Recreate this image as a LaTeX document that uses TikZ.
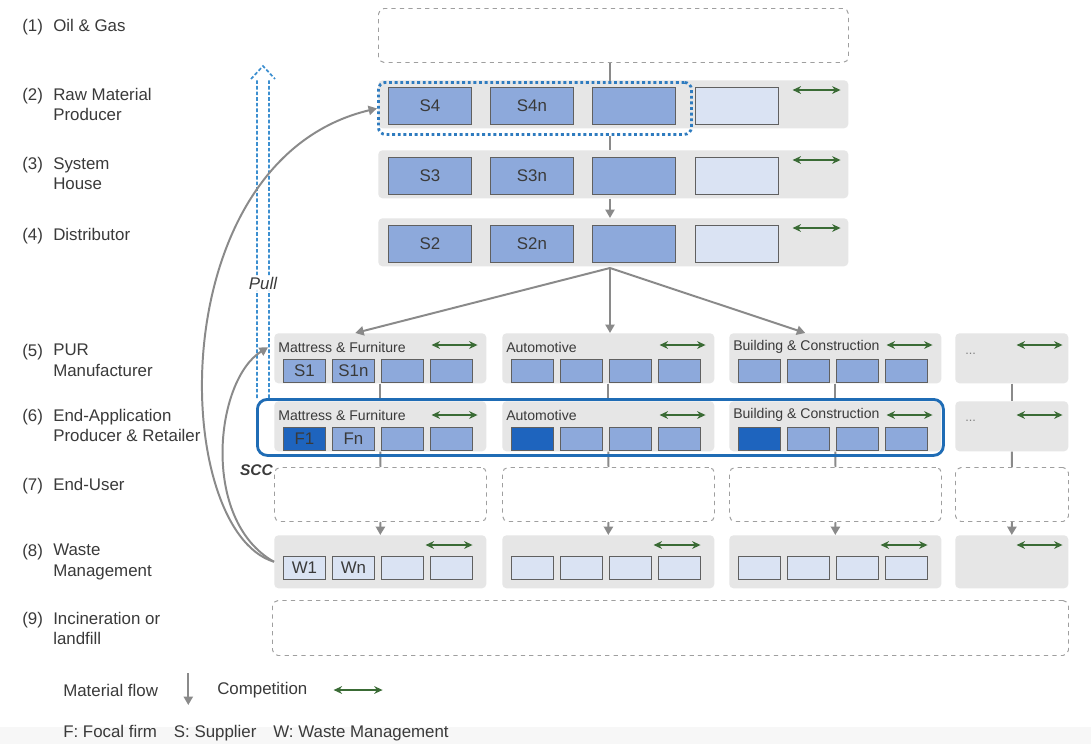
\documentclass[tikz,border=0pt]{standalone}
\usepackage{fontspec}
\setmainfont{Liberation Sans}
\usetikzlibrary{positioning}
\usetikzlibrary{arrows.meta}
\newcommand{\pxu}{0.025cm}
\definecolor{midblue}{HTML}{8DA9DB}
\definecolor{lightblue}{HTML}{DAE3F3}
\definecolor{focalblue}{HTML}{1E64BE}
\definecolor{sccblue}{HTML}{1F6CB5}
\definecolor{dotblue}{HTML}{2E7BBF}
\definecolor{pullblue}{HTML}{3C8FD0}
\definecolor{compgreen}{HTML}{3A6B35}
\definecolor{flowgray}{HTML}{8A8A8A}
\definecolor{panelgray}{HTML}{E6E6E6}
\definecolor{txtgray}{HTML}{3A3A3A}
\tikzset{>={Triangle[width=6.5pt,length=6pt]}}
\tikzset{
  wh/.style 2 args={minimum width=#1*\pxu, minimum height=#2*\pxu},
  dashbox/.style={draw=gray!75, dashed, line width=0.7pt, rounded corners=4pt, inner sep=0, anchor=north west},
  panel/.style={fill=panelgray, rounded corners=3pt, inner sep=0, anchor=north west},
  sbox/.style={draw=gray!75!black, fill=midblue, line width=0.6pt, inner sep=0, anchor=north west},
  lbox/.style={sbox, fill=lightblue},
  boxlabel/.style={inner sep=0, font=\fontsize{12}{14}\selectfont, text=txtgray},
  flow/.style={draw=flowgray, line width=1.4pt},
  compete/.style={draw=compgreen, line width=1.5pt, {Stealth[length=6pt,width=5.5pt]}-{Stealth[length=6pt,width=5.5pt]}},
  rowno/.style={anchor=north west, inner sep=0, font=\fontsize{12}{14.4}\selectfont, text=txtgray},
  rowtxt/.style={rowno, align=left},
  sector/.style={anchor=west, inner sep=0, font=\fontsize{10}{12}\selectfont, text=txtgray},
  dots/.style={anchor=west, inner sep=0, font=\fontsize{9}{10}\selectfont, text=gray},
  legend/.style={anchor=west, inner sep=0, font=\fontsize{12}{14}\selectfont, text=txtgray},
}

\begin{document}
\begin{tikzpicture}[x=\pxu, y=-\pxu]
\useasboundingbox (0,0) rectangle (1091,744);
\fill [white] (0,0) rectangle (1091,744);
\fill [gray!6] (0,727) rectangle (1091,744);

% stage labels
\foreach \n/\y/\t in {1/19/Oil \& Gas, 2/88/Raw Material\\Producer, 3/157/System\\House, 4/228/Distributor, 5/344/PUR\\Manufacturer, 6/409/End-Application\\Producer \& Retailer, 7/478/End-User, 8/544/Waste\\Management, 9/612/Incineration or\\landfill} {
  \node (n\n) [rowno] at (22,\y) {(\n)};
  \node (t\n) [rowtxt] at (53,\y) {\t};
}

% upstream rows
\node (oil) [dashbox, wh={470}{54}] at (378,8) {};
\foreach \r/\y/\a in {4/80/S4, 3/150/S3, 2/218/S2} {
  \node (R\r) [panel, wh={470}{48}] at (378,\y) {};
  \node (S\r-1) [sbox, wh={83}{37}] at (388,\y+7) {};
  \node (S\r-2) [sbox, wh={83}{37}] at (490,\y+7) {};
  \node (S\r-3) [sbox, wh={83}{37}] at (592,\y+7) {};
  \node (S\r-4) [lbox, wh={83}{37}] at (695,\y+7) {};
  \node (L\r-1) [boxlabel] at (S\r-1) {\a};
  \node (L\r-2) [boxlabel] at (S\r-2) {\a n};
  \draw [compete] ([xshift=-1.4cm,yshift=-0.25cm]R\r.north east) -- ++(48,0);
}
\node (grp) [draw=dotblue, dotted, line width=2pt, rounded corners=5pt, wh={313}{52}, anchor=north west, inner sep=0] at (377,81) {};
\coordinate (split) at (610,268);

\draw [flow] (oil.south -| split) -- (grp.north -| split);
\draw [flow] (grp.south -| split) -- (R3.north -| split);
\draw [flow, ->] (R3.south -| split) -- (R2.north -| split);

% sector panels
\foreach \k/\x/\w in {1/274/212, 2/502/212, 3/729/212, 4/955/113} {
  \node (P5\k) [panel, wh={\w}{50}] at (\x,333) {};
  \node (P6\k) [panel, wh={\w}{50}] at (\x,401) {};
  \node (U7\k) [dashbox, wh={\w}{54}] at (\x,467) {};
  \node (P8\k) [panel, wh={\w}{53}] at (\x,535) {};
}
\foreach \k/\x/\name in {1/274/Mattress \& Furniture, 2/502/Automotive, 3/729/Building \& Construction} {
  \node (T5\k) [sector] at ([xshift=0.1cm,yshift=-0.35cm]P5\k.north west) {\name};
  \node (T6\k) [sector] at ([xshift=0.1cm,yshift=-0.35cm]P6\k.north west) {\name};
  \draw [compete] ([xshift=-1.375cm,yshift=-0.3cm]P5\k.north east) -- ++(46,0);
  \draw [compete] ([xshift=-1.375cm,yshift=-0.35cm]P6\k.north east) -- ++(46,0);
  \draw [compete] ([xshift=-1.525cm,yshift=-0.25cm]P8\k.north east) -- ++(47,0);
  \foreach \j/\o in {1/9, 2/58, 3/107, 4/156} {
    \ifnum\j=1 \def\bc{focalblue}\else\def\bc{midblue}\fi
    \node (B5\k\j) [sbox, wh={42}{23}] at (\x+\o,359) {};
    \node (B6\k\j) [sbox, fill=\bc, wh={42}{23}] at (\x+\o,427) {};
    \node (B8\k\j) [lbox, wh={42}{23}] at (\x+\o,556) {};
  }
}
\node (l511) [boxlabel] at (B511) {S1};
\node (l512) [boxlabel] at (B512) {S1n};
\node (l611) [boxlabel] at (B611) {F1};
\node (l612) [boxlabel] at (B612) {Fn};
\node (l811) [boxlabel] at (B811) {W1};
\node (l812) [boxlabel] at (B812) {Wn};

\node (d54) [dots] at ([xshift=0.25cm,yshift=-0.525cm]P54.north west) {...};
\node (d64) [dots] at ([xshift=0.25cm,yshift=-0.5cm]P64.north west) {...};
\draw [compete] ([xshift=-1.3cm,yshift=-0.3cm]P54.north east) -- ++(46,0);
\draw [compete] ([xshift=-1.3cm,yshift=-0.35cm]P64.north east) -- ++(46,0);
\draw [compete] ([xshift=-1.3cm,yshift=-0.25cm]P84.north east) -- ++(46,0);

\node (U9) [dashbox, wh={796}{55}] at (272,600) {};

% material flow
\draw [flow, ->] (split) -- ([xshift=-0.625cm]P51.north);
\draw [flow, ->] (split) -- (split |- P52.north);
\draw [flow, ->] (split) -- ([xshift=-0.75cm]P53.north);
\foreach \k in {1,...,4} {
  \draw [flow] (P5\k.south) -- (P6\k.north);
  \draw [flow] (P6\k.south) -- (U7\k.north);
  \draw [flow, ->] (U7\k.south) -- (P8\k.north);
}

% supply chain cluster
\node (scc) [draw=sccblue, line width=2pt, rounded corners=7pt, wh={686}{56}, anchor=north west, inner sep=0] at (256,398) {};
\node (scclab) [anchor=east, inner sep=0, font=\bfseries\itshape\fontsize{11}{13}\selectfont, text=txtgray] at (273,470) {SCC};

% pull
\node (pull) [inner sep=1pt, font=\itshape\fontsize{12}{14}\selectfont, text=txtgray] at (263,283) {Pull};
\coordinate (pulltop) at (263,66);
\coordinate (pullbot) at (263,398);
\draw [pullblue, line width=1.2pt, dash pattern=on 2.5pt off 1.5pt]
  ([xshift=-0.15cm]pullbot) -- ([xshift=-0.15cm]pullbot |- pull.south)
  ([xshift=0.15cm]pullbot) -- ([xshift=0.15cm]pullbot |- pull.south)
  ([xshift=-0.15cm]pulltop |- pull.north) -- ([xshift=-0.15cm,yshift=-0.325cm]pulltop)
  ([xshift=0.15cm]pulltop |- pull.north) -- ([xshift=0.15cm,yshift=-0.325cm]pulltop)
  ([xshift=-0.3cm,yshift=-0.325cm]pulltop) -- (pulltop) -- ([xshift=0.3cm,yshift=-0.325cm]pulltop);

% recycling loops
\draw [flow, ->] (P81.west) .. controls (170,530) and (160,160) .. (grp.west);
\draw [flow, ->] (P81.west) .. controls (200,520) and (215,380) .. ([xshift=-0.15cm,yshift=0.275cm]P51.west);

% legend
\node (mflow) [legend] at (63,690) {Material flow};
\draw [flow, ->] ([xshift=0.75cm,yshift=0.425cm]mflow.east) -- ++(0,32);
\node (comp) [legend] at (217,690) {Competition};
\draw [compete] ([xshift=0.65cm]comp.east) -- ++(49,0);
\node (key) [legend] at (63,733) {F: Focal firm\quad S: Supplier\quad W: Waste Management};
\end{tikzpicture}
\end{document}
